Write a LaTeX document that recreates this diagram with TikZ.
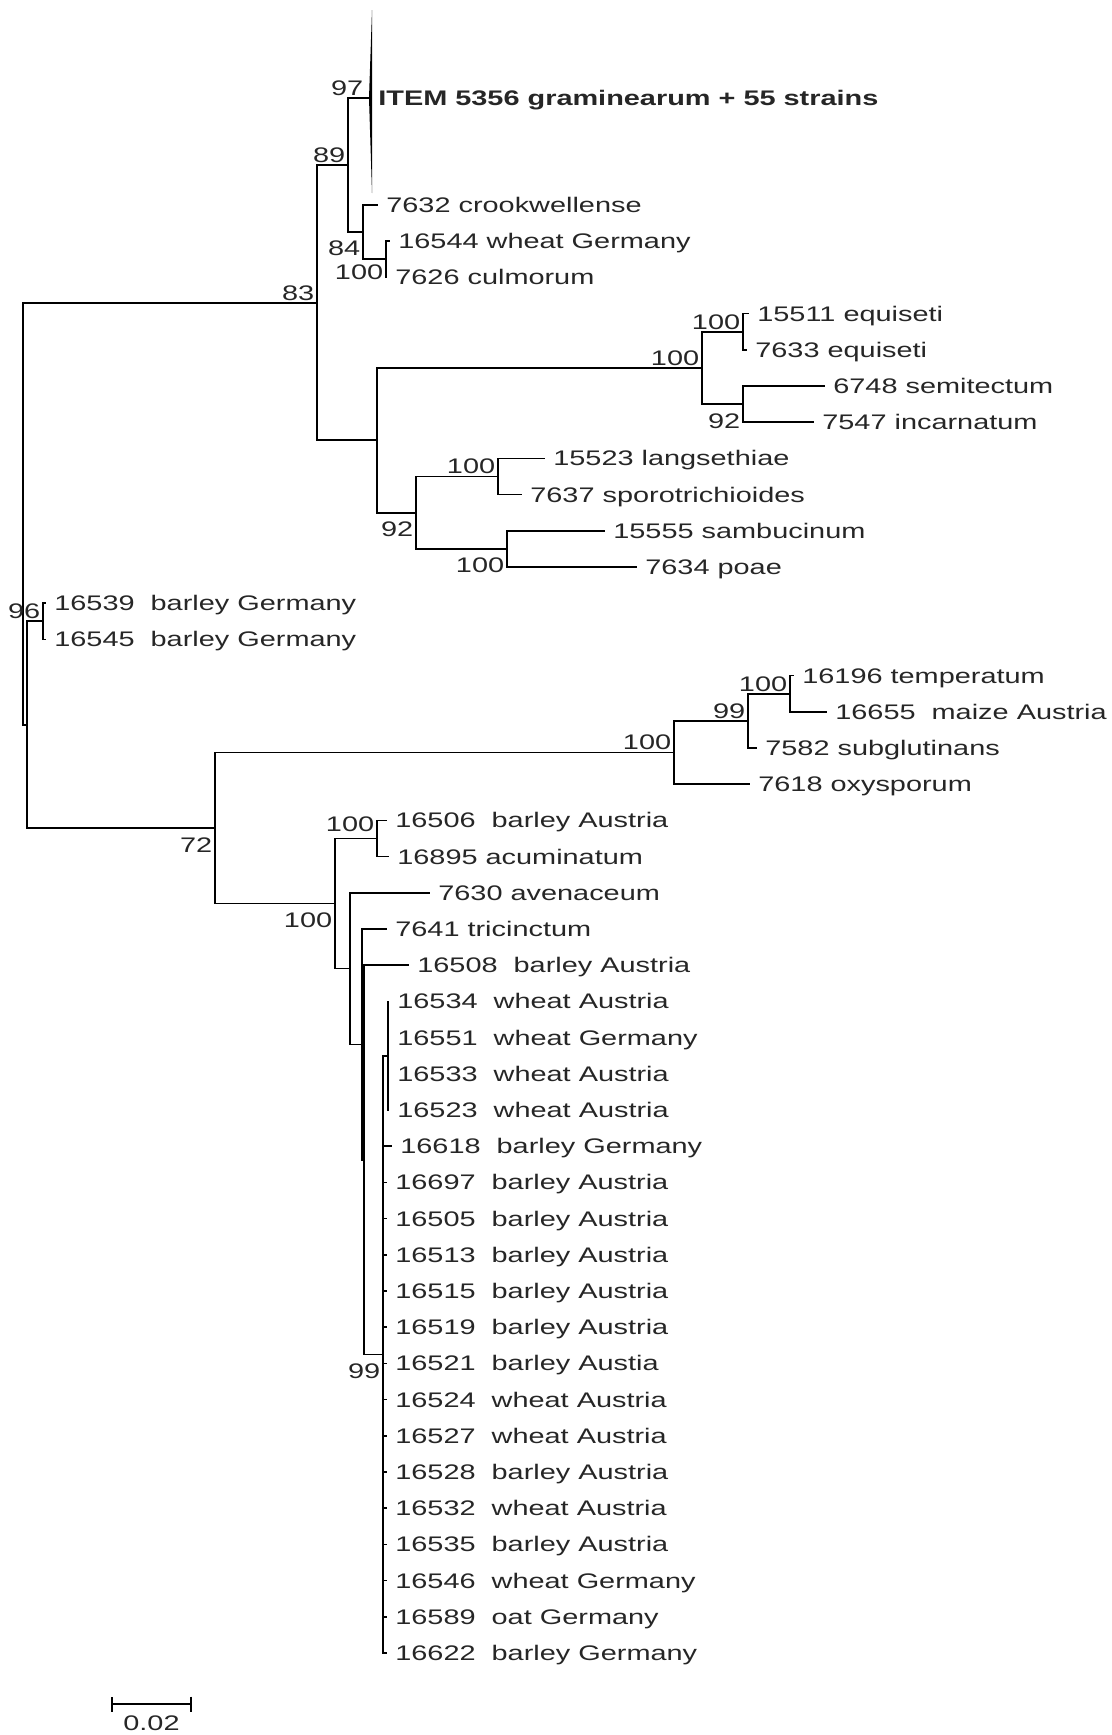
\documentclass[tikz,border=0pt]{standalone}
\usepackage{fontspec}
\setmainfont{Liberation Sans}[FakeStretch=1.37]
\usetikzlibrary{arrows.meta,calc}

\begin{document}
\begin{tikzpicture}[x=0.02cm, y=-0.02cm,
	every node/.style = {font=\fontsize{12}{14}\selectfont, text=black!85},
	leaf/.style = {anchor=west, inner xsep=0.16cm, inner ysep=0pt, text height=8.6pt, text depth=0pt},
	bootup/.style = {anchor=south east, inner sep=0pt, xshift=-0.05cm, yshift=0.04cm},
	bootdown/.style = {anchor=north east, inner sep=0pt, xshift=-0.05cm, yshift=-0.18cm},
	branch/.style = {line width=1pt}]

\useasboundingbox (0,0) rectangle (1112,1735);

% internal nodes
\coordinate (root) at (23,513.7);
\coordinate (n83) at (317,302.7);
\coordinate (n89) at (348,165.1);
\coordinate (ngram) at (369,98);
\coordinate (n84) at (363,232.2);
\coordinate (n100top) at (386,259.3);
\coordinate (nY) at (377,440.3);
\coordinate (n100b) at (702,367.9);
\coordinate (n100eq) at (743,331.7);
\coordinate (n92se) at (743,404.1);
\coordinate (n92) at (416,512.7);
\coordinate (n100ls) at (498,476.5);
\coordinate (n100sp) at (507,548.9);
\coordinate (nX) at (27,724.7);
\coordinate (n96) at (43,621.3);
\coordinate (n72) at (215,828.0);
\coordinate (n100f) at (674,752.5);
\coordinate (n99f) at (748,720.9);
\coordinate (n100t) at (790,693.7);
\coordinate (nA) at (335,903.6);
\coordinate (n100ac) at (377,838.5);
\coordinate (nB) at (350,968.6);
\coordinate (nC) at (362,1044.4);
\coordinate (nD) at (364,1159.8);
\coordinate (nE) at (383,1354.4);
\coordinate (nF) at (388,1055.7);

% leaves
\node[leaf, font=\fontsize{12}{14}\selectfont\bfseries] (sgram) at (370,98) {ITEM 5356 graminearum + 55 strains};
\node[leaf] (s7632) at (378,205.0) {7632 crookwellense};
\node[leaf] (s16544) at (390,241.2) {16544 wheat Germany};
\node[leaf] (s7626) at (387,277.4) {7626 culmorum};
\node[leaf] (s15511) at (749,313.6) {15511 equiseti};
\node[leaf] (s7633) at (747,349.8) {7633 equiseti};
\node[leaf] (s6748) at (825,386.0) {6748 semitectum};
\node[leaf] (s7547) at (814,422.2) {7547 incarnatum};
\node[leaf] (s15523) at (545,458.4) {15523 langsethiae};
\node[leaf] (s7637) at (522,494.6) {7637 sporotrichioides};
\node[leaf] (s15555) at (605,530.8) {15555 sambucinum};
\node[leaf] (s7634) at (637,567.0) {7634 poae};
\node[leaf] (s16539) at (46,603.2) {16539~~barley Germany};
\node[leaf] (s16545) at (46,639.4) {16545~~barley Germany};
\node[leaf] (s16196) at (794,675.6) {16196 temperatum};
\node[leaf] (s16655) at (827,711.8) {16655~~maize Austria};
\node[leaf] (s7582) at (757,748.0) {7582 subglutinans};
\node[leaf] (s7618) at (750,784.2) {7618 oxysporum};
\node[leaf] (s16506) at (387,820.4) {16506~~barley Austria};
\node[leaf] (s16895) at (389,856.6) {16895 acuminatum};
\node[leaf] (s7630) at (430,892.8) {7630 avenaceum};
\node[leaf] (s7641) at (387,929.0) {7641 tricinctum};
\node[leaf] (s16508) at (409,965.2) {16508~~barley Austria};
\node[leaf] (s16618) at (392,1146.2) {16618~~barley Germany};

% branches
\draw[branch] (root) |- (n83);
\draw[branch] (root) |- (nX);
\draw[branch] (n83) |- (n89);
\draw[branch] (n83) |- (nY);
\draw[branch] (n89) |- (ngram);
\fill (ngram) -- ++(3,-88) -- ++(0,183) -- cycle;
\draw[branch] (n89) |- (n84);
\draw[branch] (n84) |- (s7632.west);
\draw[branch] (n84) |- (n100top);
\draw[branch] (n100top) |- (s16544.west);
\draw[branch] (n100top) |- (s7626.west);
\draw[branch] (nY) |- (n100b);
\draw[branch] (nY) |- (n92);
\draw[branch] (n100b) |- (n100eq);
\draw[branch] (n100b) |- (n92se);
\draw[branch] (n100eq) |- (s15511.west);
\draw[branch] (n100eq) |- (s7633.west);
\draw[branch] (n92se) |- (s6748.west);
\draw[branch] (n92se) |- (s7547.west);
\draw[branch] (n92) |- (n100ls);
\draw[branch] (n92) |- (n100sp);
\draw[branch] (n100ls) |- (s15523.west);
\draw[branch] (n100ls) |- (s7637.west);
\draw[branch] (n100sp) |- (s15555.west);
\draw[branch] (n100sp) |- (s7634.west);
\draw[branch] (nX) |- (n96);
\draw[branch] (nX) |- (n72);
\draw[branch] (n96) |- (s16539.west);
\draw[branch] (n96) |- (s16545.west);
\draw[branch] (n72) |- (n100f);
\draw[branch] (n72) |- (nA);
\draw[branch] (n100f) |- (n99f);
\draw[branch] (n100f) |- (s7618.west);
\draw[branch] (n99f) |- (n100t);
\draw[branch] (n99f) |- (s7582.west);
\draw[branch] (n100t) |- (s16196.west);
\draw[branch] (n100t) |- (s16655.west);
\draw[branch] (nA) |- (n100ac);
\draw[branch] (nA) |- (nB);
\draw[branch] (n100ac) |- (s16506.west);
\draw[branch] (n100ac) |- (s16895.west);
\draw[branch] (nB) |- (s7630.west);
\draw[branch] (nB) |- (nC);
\draw[branch] (nC) |- (s7641.west);
\draw[branch] (nC) |- (nD);
\draw[branch] (nD) |- (s16508.west);
\draw[branch] (nD) |- (nE);
\draw[branch] (nE) |- (nF);
\draw[branch] (nE) |- (s16618.west);

% wheat group under nF
\foreach \id/\host [count=\k from 0] in {16534/wheat Austria, 16551/wheat Germany,
	16533/wheat Austria, 16523/wheat Austria}
{
	\node[leaf] (s\id) at (389,{1001.4+36.2*\k}) {\id~~\host};
	\draw[branch] (nF) |- (s\id.west);
}

% polytomy under nE
\foreach \id/\host [count=\k from 0] in {16697/barley Austria, 16505/barley Austria,
	16513/barley Austria, 16515/barley Austria, 16519/barley Austria,
	16521/barley Austia, 16524/wheat Austria, 16527/wheat Austria,
	16528/barley Austria, 16532/wheat Austria, 16535/barley Austria,
	16546/wheat Germany, 16589/oat Germany, 16622/barley Germany}
{
	\node[leaf] (s\id) at (387,{1182.4+36.2*\k}) {\id~~\host};
	\draw[branch] (nE) |- (s\id.west);
}

% bootstrap values
\node[bootup, xshift=-0.06cm] (b97) at (ngram) {97};
\node[bootup] (b89) at (n89) {89};
\node[bootdown, yshift=0.02cm] (b84) at (n84) {84};
\node[bootdown, yshift=0.08cm] (b100top) at (n100top) {100};
\node[bootup] (b83) at (n83) {83};
\node[bootup] (b100b) at (n100b) {100};
\node[bootup] (b100eq) at (n100eq) {100};
\node[bootdown] (b92se) at (n92se) {92};
\node[bootup] (b100ls) at (n100ls) {100};
\node[bootdown] (b92) at (n92) {92};
\node[bootdown] (b100sp) at (n100sp) {100};
\node[bootup] (b96) at (n96) {96};
\node[bootup] (b100f) at (n100f) {100};
\node[bootup] (b99f) at (n99f) {99};
\node[bootup] (b100t) at (n100t) {100};
\node[bootdown] (b72) at (n72) {72};
\node[bootdown] (b100a) at (nA) {100};
\node[bootup, yshift=0.08cm] (b100ac) at (n100ac) {100};
\node[bootdown] (b99e) at (nE) {99};

% scale bar
\coordinate (sb1) at (111,1704);
\coordinate (sb2) at (192,1704);
\draw[branch, {Bar[width=0.3cm]}-{Bar[width=0.3cm]}] (sb1) -- (sb2);
\node[anchor=north, inner sep=0pt] (sblab) at ($(sb1)!0.5!(sb2)+(0,11)$) {0.02};
\end{tikzpicture}
\end{document}
